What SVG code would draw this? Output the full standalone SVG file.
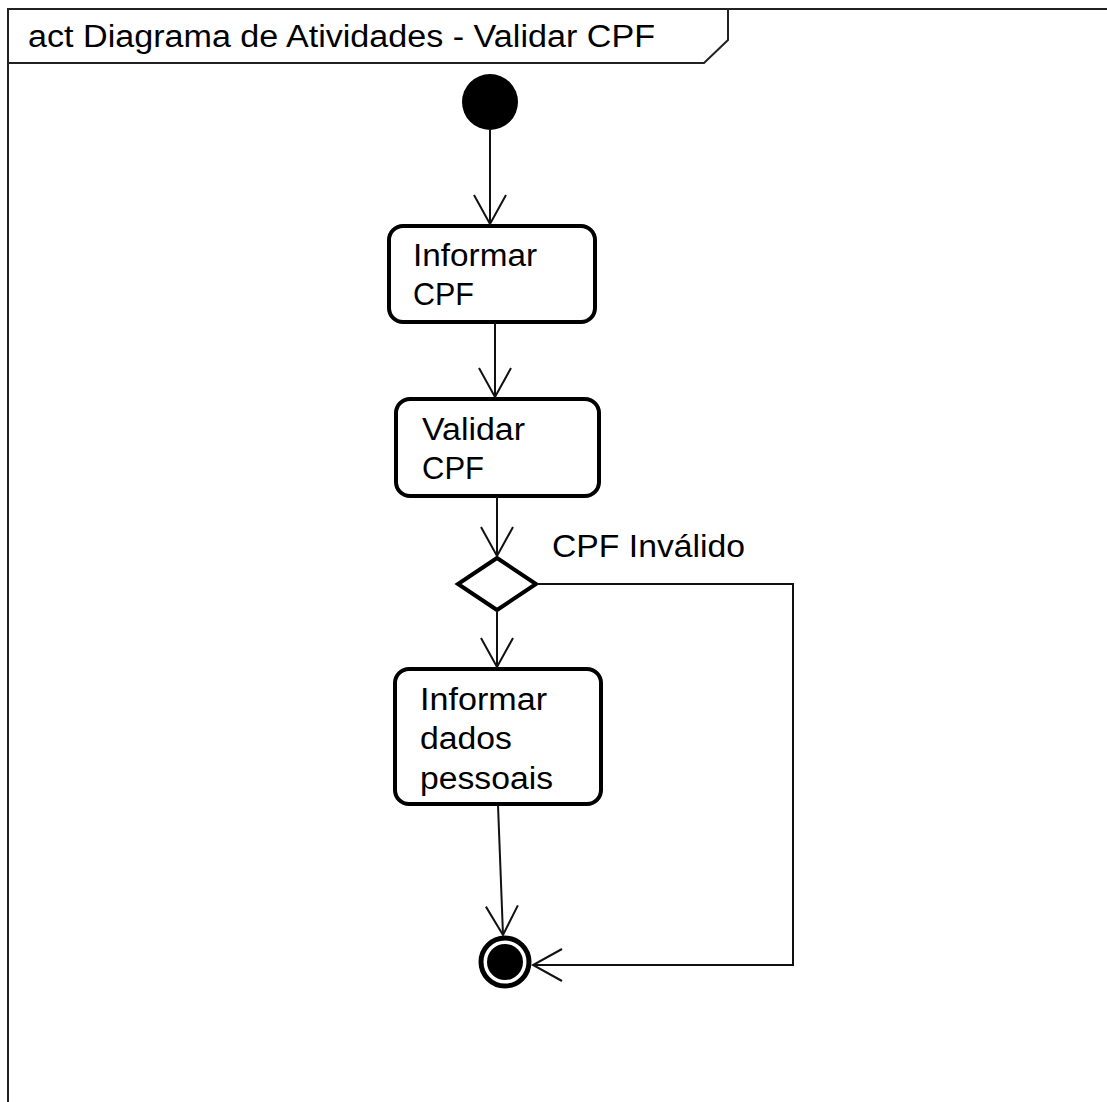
<svg xmlns="http://www.w3.org/2000/svg" width="1107" height="1102" viewBox="0 0 1107 1102">
  <style>
    .frame { fill: none; stroke: #222; stroke-width: 2; }
    .action { fill: #fff; stroke: #000; stroke-width: 4; }
    .label { font-family: "Liberation Sans", Arial, sans-serif; font-size: 31px; fill: #000; }
    .flow { fill: none; stroke: #111; stroke-width: 2; }
  </style>
  <defs>
    <marker id="open-arrow" markerUnits="userSpaceOnUse" markerWidth="40" markerHeight="40" viewBox="-32 -20 40 40" refX="0" refY="0" orient="auto">
      <path d="M -29 -16 L 0 0 L -29 16" fill="none" stroke="#111" stroke-width="2"/>
    </marker>
  </defs>

  <rect width="1107" height="1102" fill="#fff"/>

  <!-- activity frame with name tab -->
  <g id="frame">
    <path class="frame" d="M 8 1102 L 8 9 L 1107 9"/>
    <path class="frame" d="M 8 63 L 704 63 L 728 40 L 728 9"/>
    <text class="label" x="28" y="47" textLength="627" lengthAdjust="spacingAndGlyphs">act Diagrama de Atividades - Validar CPF</text>
  </g>

  <g id="initial">
    <circle cx="490" cy="102" r="28" fill="#000"/>
  </g>

  <g id="informar-cpf">
    <rect class="action" x="389" y="226" width="206" height="96" rx="14"/>
    <text class="label" x="413" y="266" textLength="124" lengthAdjust="spacingAndGlyphs">Informar</text>
    <text class="label" x="413" y="305" textLength="61" lengthAdjust="spacingAndGlyphs">CPF</text>
  </g>

  <g id="validar-cpf">
    <rect class="action" x="396" y="399" width="203" height="97" rx="14"/>
    <text class="label" x="422" y="440" textLength="103" lengthAdjust="spacingAndGlyphs">Validar</text>
    <text class="label" x="422" y="479" textLength="62" lengthAdjust="spacingAndGlyphs">CPF</text>
  </g>

  <g id="decisao">
    <polygon points="497,558 536,584 497,610 458,584" fill="#fff" stroke="#000" stroke-width="4" stroke-linejoin="miter"/>
  </g>

  <g id="informar-dados">
    <rect class="action" x="395" y="669" width="206" height="135" rx="14"/>
    <text class="label" x="420" y="710" textLength="127" lengthAdjust="spacingAndGlyphs">Informar</text>
    <text class="label" x="420" y="749" textLength="92" lengthAdjust="spacingAndGlyphs">dados</text>
    <text class="label" x="420" y="789" textLength="133" lengthAdjust="spacingAndGlyphs">pessoais</text>
  </g>

  <g id="final">
    <circle cx="505" cy="962" r="24" fill="#fff" stroke="#000" stroke-width="5"/>
    <circle cx="505" cy="962" r="18" fill="#000"/>
  </g>

  <g id="connectors">
    <line class="flow" x1="490" y1="130" x2="490" y2="224" marker-end="url(#open-arrow)"/>
    <line class="flow" x1="495" y1="322" x2="495" y2="397" marker-end="url(#open-arrow)"/>
    <line class="flow" x1="497" y1="497" x2="497" y2="556" marker-end="url(#open-arrow)"/>
    <line class="flow" x1="497" y1="610" x2="497" y2="667" marker-end="url(#open-arrow)"/>
    <line class="flow" x1="498" y1="805" x2="503" y2="935" marker-end="url(#open-arrow)"/>
    <polyline class="flow" points="537,584 793,584 793,965 533,965" marker-end="url(#open-arrow)"/>
    <text class="label" x="552" y="557" textLength="193" lengthAdjust="spacingAndGlyphs">CPF Inválido</text>
  </g>
</svg>
